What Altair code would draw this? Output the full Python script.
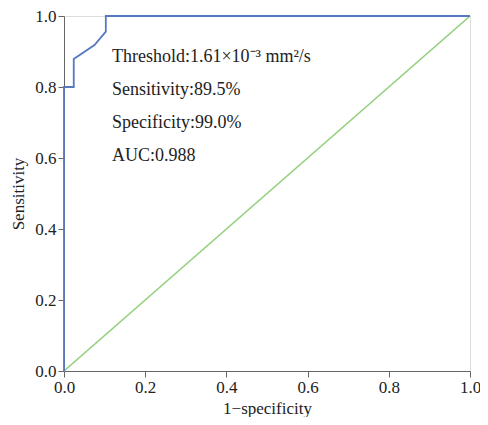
import altair as alt
import pandas as pd

roc_fpr = [0.0, 0.0, 0.024, 0.024, 0.075, 0.103, 0.103, 1.0]
roc_tpr = [0.0, 0.8, 0.8, 0.879, 0.918, 0.956, 1.0, 1.0]
diag_x = [0.0, 1.0]
diag_y = [0.0, 1.0]
notes = ["Threshold:1.61×10⁻³ mm²/s", "Sensitivity:89.5%", "Specificity:99.0%", "AUC:0.988"]
note_x = [0.118, 0.118, 0.118, 0.118]
note_y = [0.885, 0.792, 0.700, 0.607]
ticks = [0.0, 0.2, 0.4, 0.6, 0.8, 1.0]

FONT = "Liberation Serif"

roc_df = pd.DataFrame({"x": roc_fpr, "y": roc_tpr, "o": list(range(len(roc_fpr)))})
diag_df = pd.DataFrame({"x": diag_x, "y": diag_y})
note_df = pd.DataFrame({"t": notes, "x": note_x, "y": note_y})

xs = alt.Scale(domain=[0, 1], nice=False)
ys = alt.Scale(domain=[0, 1], nice=False)

xax = alt.Axis(values=ticks, format=".1f", title="1−specificity", grid=False,
               labelFlush=False, labelOverlap=False,
               labelFontSize=17, titleFontSize=17, titleFontWeight="normal",
               labelFont=FONT, titleFont=FONT, labelColor="#222", titleColor="#222",
               domainColor="#666", tickColor="#666", tickSize=6, labelPadding=2, titlePadding=5)
yax = alt.Axis(values=ticks, format=".1f", title="Sensitivity", grid=False,
               labelFlush=False, labelOverlap=False,
               labelFontSize=17, titleFontSize=17, titleFontWeight="normal",
               labelFont=FONT, titleFont=FONT, labelColor="#222", titleColor="#222",
               domainColor="#666", tickColor="#666", tickSize=6, labelPadding=2, titlePadding=7)

diag = alt.Chart(diag_df).mark_line(color="#8fd07c", strokeWidth=1.6).encode(
    x=alt.X("x:Q", scale=xs, axis=xax),
    y=alt.Y("y:Q", scale=ys, axis=yax),
)
roc = alt.Chart(roc_df).mark_line(color="#5578c0", strokeWidth=1.8).encode(
    x=alt.X("x:Q", scale=xs),
    y=alt.Y("y:Q", scale=ys),
    order="o:Q",
)
txt = alt.Chart(note_df).mark_text(align="left", baseline="middle", font=FONT,
                                    fontSize=18, color="#222").encode(
    x=alt.X("x:Q", scale=xs),
    y=alt.Y("y:Q", scale=ys),
    text="t:N",
)

chart = alt.layer(diag, roc, txt).properties(
    width=406, height=355,
    autosize=alt.AutoSizeParams(type="none"),
    padding={"left": 56, "top": 8, "right": 10, "bottom": 46},
).configure_view(fill="#f6f6f6", stroke="#777", strokeWidth=1.5).configure(background="white")

chart.save("out.html", embed_options={"renderer": "svg", "actions": False})
